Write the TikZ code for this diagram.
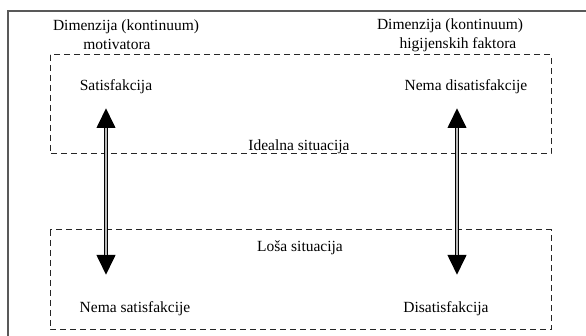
\documentclass[tikz,border=0pt]{standalone}
\usepackage{fontspec}
\setmainfont{Liberation Serif}
\usepackage{tikz}
\usetikzlibrary{positioning, arrows.meta}
\tikzstyle{zona}=[draw=black!85, line width=1pt, dash pattern=on 6pt off 4pt]
\tikzstyle{okvir}=[draw=black!65, line width=1.3pt]
\tikzstyle{tekst}=[inner sep=0pt, anchor=base, font=\fontsize{15.5}{18}\selectfont]
\tikzstyle{strelica}=[line width=4pt, {Triangle[width=18pt,length=20pt]}-{Triangle[width=18pt,length=20pt]}]
\tikzstyle{jezgro}=[line width=1.6pt, gray!55, shorten <=20pt, shorten >=20pt]

\begin{document}
\begin{tikzpicture}[x=1pt, y=-1pt]
        \useasboundingbox (0,0) rectangle (586,336);

        % Okviri
        \draw[okvir] (8,345) -- (8,11) -- (595,11);
        \draw[zona] (50,55) rectangle (551,154);
        \draw[zona] (50,230) rectangle (551,330);

        % Tekst
        \node[tekst] (dimL) at (126,31) {Dimenzija (kontinuum)};
        \node[tekst] (motiv) at (117,50) {motivatora};
        \node[tekst] (dimD) at (450,30) {Dimenzija (kontinuum)};
        \node[tekst] (higij) at (458,49) {higijenskih faktora};
        \node[tekst] (sat) at (116,91) {Satisfakcija};
        \node[tekst] (nemadis) at (466,91) {Nema disatisfakcije};
        \node[tekst] (ideal) at (299,151) {Idealna situacija};
        \node[tekst] (losa) at (300,252) {Loša situacija};
        \node[tekst] (nemasat) at (135,313) {Nema satisfakcije};
        \node[tekst] (disat) at (446,313) {Disatisfakcija};

        % Strelice
        \coordinate (lg) at (106,108);
        \coordinate (ld) at (106,275);
        \coordinate (dg) at (457,108);
        \coordinate (dd) at (457,275);
        \draw[strelica] (lg) -- (ld);
        \draw[jezgro] (lg) -- (ld);
        \draw[strelica] (dg) -- (dd);
        \draw[jezgro] (dg) -- (dd);
    \end{tikzpicture}
\end{document}
